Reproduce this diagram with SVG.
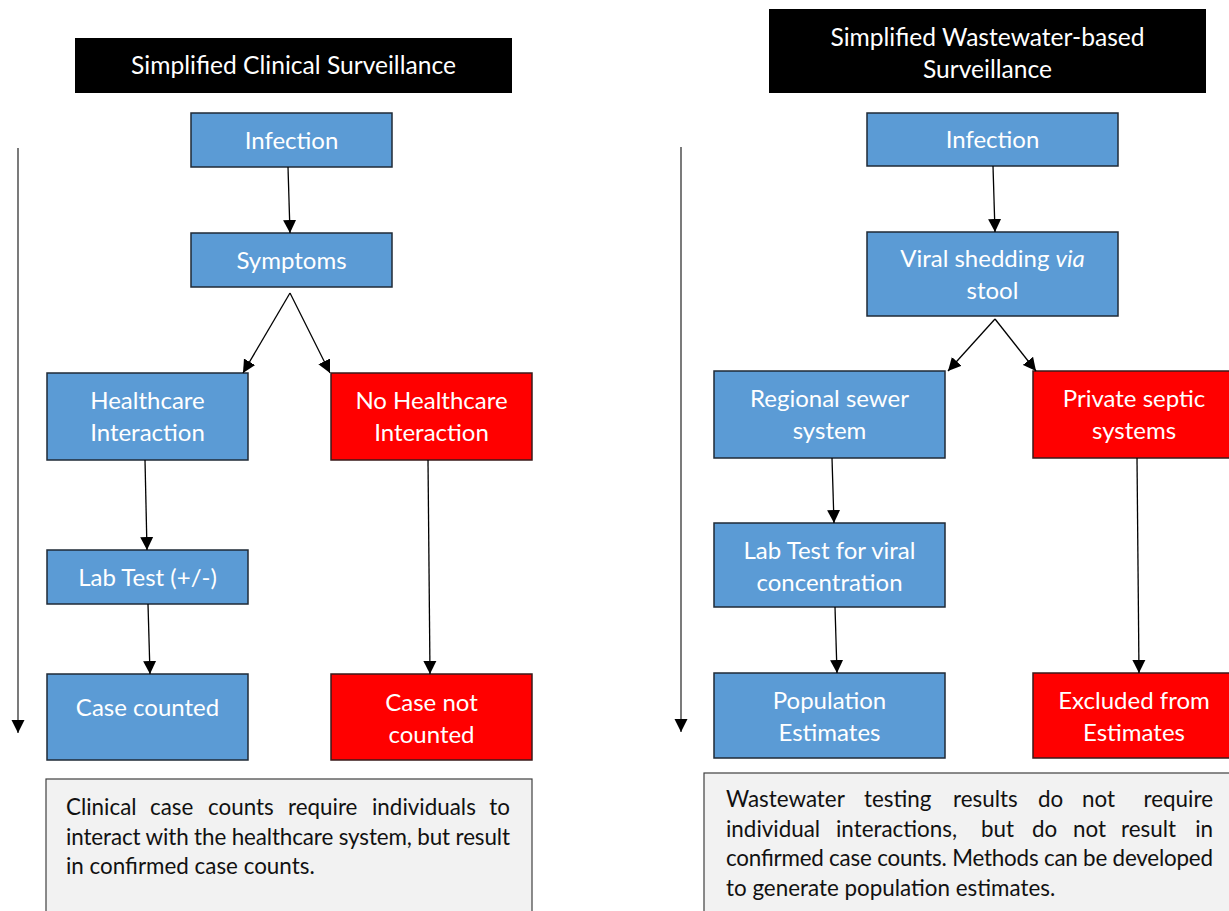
<svg xmlns="http://www.w3.org/2000/svg" width="1229" height="911" viewBox="0 0 1229 911">
<style>
.title{fill:#000}
.ttxt{fill:#fff;font-family:Lato,"Liberation Sans",sans-serif;font-size:24.6px;text-anchor:middle}
.blue{fill:#5b9bd5;stroke:#1f2a36;stroke-width:1.5}
.red{fill:#ff0000;stroke:#3a1a1a;stroke-width:1.5}
.btxt{fill:#fff;font-family:Lato,"Liberation Sans",sans-serif;font-size:24px;text-anchor:middle}
.note{fill:#f2f2f2;stroke:#404040;stroke-width:1.2}
.ntxt{fill:#111;font-family:Lato,"Liberation Sans",sans-serif;font-size:22.4px}
.conn line{stroke:#000;stroke-width:1.3}
</style>
<defs>
<marker id="ahl" viewBox="0 0 10 10" refX="10" refY="5" markerWidth="13" markerHeight="14" markerUnits="userSpaceOnUse" orient="auto">
<path d="M0,0 L10,5 L0,10 Z" fill="#000"/>
</marker>
</defs>
<rect width="1229" height="911" fill="#fff"/>

<g id="title-clinical">
<rect class="title" x="75" y="38" width="437" height="55"/>
<text class="ttxt" x="293.5" y="74">Simplified Clinical Surveillance</text>
</g>
<g id="title-wastewater">
<rect class="title" x="769" y="9" width="437" height="84"/>
<text class="ttxt" x="987.5" y="46">Simplified Wastewater-based</text>
<text class="ttxt" x="987.5" y="78">Surveillance</text>
</g>

<g id="c-infection">
<rect class="blue" x="191" y="113" width="201" height="54"/>
<text class="btxt" x="291.5" y="149">Infection</text>
</g>
<g id="c-symptoms">
<rect class="blue" x="191" y="233" width="201" height="54"/>
<text class="btxt" x="291.5" y="269">Symptoms</text>
</g>
<g id="c-healthcare">
<rect class="blue" x="47" y="373" width="201" height="87"/>
<text class="btxt" x="147.5" y="409">Healthcare</text>
<text class="btxt" x="147.5" y="441">Interaction</text>
</g>
<g id="c-nohealthcare">
<rect class="red" x="331" y="373" width="201" height="87"/>
<text class="btxt" x="431.5" y="409">No Healthcare</text>
<text class="btxt" x="431.5" y="441">Interaction</text>
</g>
<g id="c-labtest">
<rect class="blue" x="47" y="550" width="201" height="54"/>
<text class="btxt" x="147.5" y="586">Lab Test (+/-)</text>
</g>
<g id="c-counted">
<rect class="blue" x="47" y="674" width="201" height="86"/>
<text class="btxt" x="147.5" y="716">Case counted</text>
</g>
<g id="c-notcounted">
<rect class="red" x="331" y="674" width="201" height="86"/>
<text class="btxt" x="431.5" y="711">Case not</text>
<text class="btxt" x="431.5" y="743">counted</text>
</g>

<g id="w-infection">
<rect class="blue" x="867" y="113" width="251" height="53"/>
<text class="btxt" x="992.5" y="148">Infection</text>
</g>
<g id="w-shedding">
<rect class="blue" x="867" y="232" width="251" height="84"/>
<text class="btxt" x="992.5" y="267">Viral shedding <tspan font-style="italic">via</tspan></text>
<text class="btxt" x="992.5" y="299">stool</text>
</g>
<g id="w-sewer">
<rect class="blue" x="714" y="371" width="231" height="87"/>
<text class="btxt" x="829.5" y="407">Regional sewer</text>
<text class="btxt" x="829.5" y="439">system</text>
</g>
<g id="w-septic">
<rect class="red" x="1033" y="371" width="205" height="87"/>
<text class="btxt" x="1134" y="407">Private septic</text>
<text class="btxt" x="1134" y="439">systems</text>
</g>
<g id="w-labtest">
<rect class="blue" x="714" y="523" width="231" height="84"/>
<text class="btxt" x="829.5" y="559">Lab Test for viral</text>
<text class="btxt" x="829.5" y="591">concentration</text>
</g>
<g id="w-population">
<rect class="blue" x="714" y="673" width="231" height="85"/>
<text class="btxt" x="829.5" y="709">Population</text>
<text class="btxt" x="829.5" y="741">Estimates</text>
</g>
<g id="w-excluded">
<rect class="red" x="1033" y="673" width="205" height="85"/>
<text class="btxt" x="1134" y="709">Excluded from</text>
<text class="btxt" x="1134" y="741">Estimates</text>
</g>

<g id="note-clinical">
<rect class="note" x="46" y="779" width="486" height="140"/>
<text class="ntxt" y="815"><tspan x="66">Clinical</tspan><tspan x="150">case</tspan><tspan x="208">counts</tspan><tspan x="288">require</tspan><tspan x="372">individuals</tspan><tspan x="510" text-anchor="end">to</tspan></text>
<text class="ntxt" x="66" y="845" textLength="444" lengthAdjust="spacing">interact with the healthcare system, but result</text>
<text class="ntxt" x="66" y="874">in confirmed case counts.</text>
</g>
<g id="note-wastewater">
<rect class="note" x="704" y="773" width="540" height="150"/>
<text class="ntxt" y="807"><tspan x="726">Wastewater</tspan><tspan x="864">testing</tspan><tspan x="953">results</tspan><tspan x="1038">do</tspan><tspan x="1082">not</tspan><tspan x="1213" text-anchor="end">require</tspan></text>
<text class="ntxt" y="837"><tspan x="726">individual</tspan><tspan x="836">interactions,</tspan><tspan x="981">but</tspan><tspan x="1032">do</tspan><tspan x="1073">not</tspan><tspan x="1121">result</tspan><tspan x="1213" text-anchor="end">in</tspan></text>
<text class="ntxt" x="726" y="866" textLength="487" lengthAdjust="spacing">confirmed case counts. Methods can be developed</text>
<text class="ntxt" x="726" y="896">to generate population estimates.</text>
</g>

<g id="connectors" class="conn">
<line x1="18" y1="148" x2="18" y2="733" style="marker-end:url(#ahl);stroke:#333"/>
<line x1="681" y1="147" x2="681" y2="732" style="marker-end:url(#ahl);stroke:#333"/>
<line x1="288" y1="167" x2="290" y2="233" style="marker-end:url(#ahl)"/>
<line x1="290" y1="293" x2="243" y2="373" style="marker-end:url(#ahl)"/>
<line x1="290" y1="293" x2="330" y2="373" style="marker-end:url(#ahl)"/>
<line x1="145" y1="460" x2="147" y2="550" style="marker-end:url(#ahl)"/>
<line x1="148" y1="604" x2="150" y2="674" style="marker-end:url(#ahl)"/>
<line x1="428" y1="460" x2="430" y2="674" style="marker-end:url(#ahl)"/>
<line x1="993" y1="166" x2="995" y2="232" style="marker-end:url(#ahl)"/>
<line x1="995" y1="319" x2="948" y2="371" style="marker-end:url(#ahl)"/>
<line x1="995" y1="319" x2="1036" y2="371" style="marker-end:url(#ahl)"/>
<line x1="832" y1="458" x2="834" y2="523" style="marker-end:url(#ahl)"/>
<line x1="835" y1="607" x2="837" y2="673" style="marker-end:url(#ahl)"/>
<line x1="1137" y1="458" x2="1139" y2="673" style="marker-end:url(#ahl)"/>
</g>
</svg>
